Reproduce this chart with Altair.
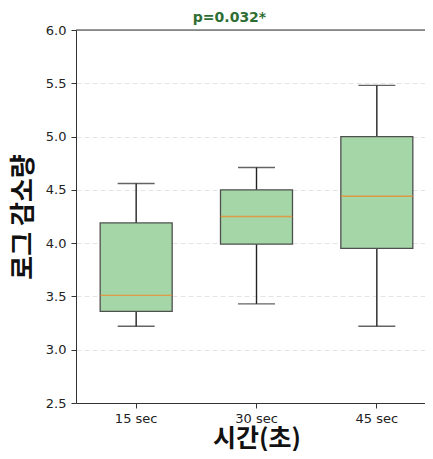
import altair as alt
import pandas as pd

categories = ["15 sec", "30 sec", "45 sec"]
whisker_low = [3.22, 3.43, 3.22]
q1 = [3.36, 3.99, 3.95]
median = [3.51, 4.25, 4.44]
q3 = [4.19, 4.50, 5.00]
whisker_high = [4.56, 4.71, 5.48]

df = pd.DataFrame({
    "cat": categories,
    "lo": whisker_low,
    "q1": q1,
    "med": median,
    "q3": q3,
    "hi": whisker_high,
})

W, H = 349, 373
xscale = alt.Scale(domain=categories, range=[0, 361], paddingInner=0, paddingOuter=0)
yscale = alt.Scale(domain=[2.5, 6.0], nice=False, zero=False)

x_enc = alt.X("cat:N", scale=xscale, sort=categories,
              axis=alt.Axis(title="시간(초)", labelAngle=0, labelFont="DejaVu Sans",
                            labelFontSize=13, labelColor="#222", labelPadding=4,
                            tickSize=5, tickColor="#333", domainColor="#333",
                            titleFont="Noto Sans CJK KR", titleFontSize=25,
                            titleFontWeight="bold", titleColor="#111", titlePadding=1,
                            grid=False))
y_axis = alt.Axis(title="로그 감소량", values=[2.5, 3.0, 3.5, 4.0, 4.5, 5.0, 5.5, 6.0],
                  format=".1f", labelFont="DejaVu Sans", labelFontSize=13,
                  labelColor="#222", labelPadding=5, tickSize=5, tickColor="#333",
                  domainColor="#333", grid=True, gridDash=[5, 3], gridColor="#dddddd",
                  gridWidth=0.8, titleFont="Noto Sans CJK KR", titleFontSize=26,
                  titleFontWeight="bold", titleColor="#111", titlePadding=9)

base = alt.Chart(df)

whisk = base.mark_rule(color="#222", strokeWidth=1.4).encode(
    x=x_enc, y=alt.Y("lo:Q", scale=yscale, axis=y_axis), y2="hi:Q")
caps_lo = base.mark_tick(color="#222", size=37, thickness=1.4, orient="horizontal").encode(
    x=x_enc, y=alt.Y("lo:Q", scale=yscale))
caps_hi = base.mark_tick(color="#222", size=37, thickness=1.4, orient="horizontal").encode(
    x=x_enc, y=alt.Y("hi:Q", scale=yscale))
box = base.mark_bar(width=72, fill="#a5d6a7", stroke="#4f4f4f", strokeWidth=1.3).encode(
    x=x_enc, y=alt.Y("q1:Q", scale=yscale), y2="q3:Q")
med = base.mark_tick(color="#f5821f", size=72, thickness=1.4, orient="horizontal").encode(
    x=x_enc, y=alt.Y("med:Q", scale=yscale))
top = alt.Chart(pd.DataFrame({"t": [6.0]})).mark_rule(color="#333", strokeWidth=1).encode(
    y=alt.Y("t:Q", scale=yscale), x=alt.value(0), x2=alt.value(361))

chart = alt.layer(whisk, caps_lo, caps_hi, box, med, top).properties(
    width=W, height=H,
    autosize=alt.AutoSizeParams(type="none"),
    padding={"left": 68, "top": 22, "right": 0, "bottom": 48},
    title=alt.TitleParams("p=0.032*", font="DejaVu Sans", fontSize=14, fontWeight="bold",
                          color="#2e6e33", anchor="middle", dx=-21, dy=3, offset=2),
).configure_view(stroke=None).configure(background="white")

chart.save("out.html", embed_options={"renderer": "svg", "actions": False})
